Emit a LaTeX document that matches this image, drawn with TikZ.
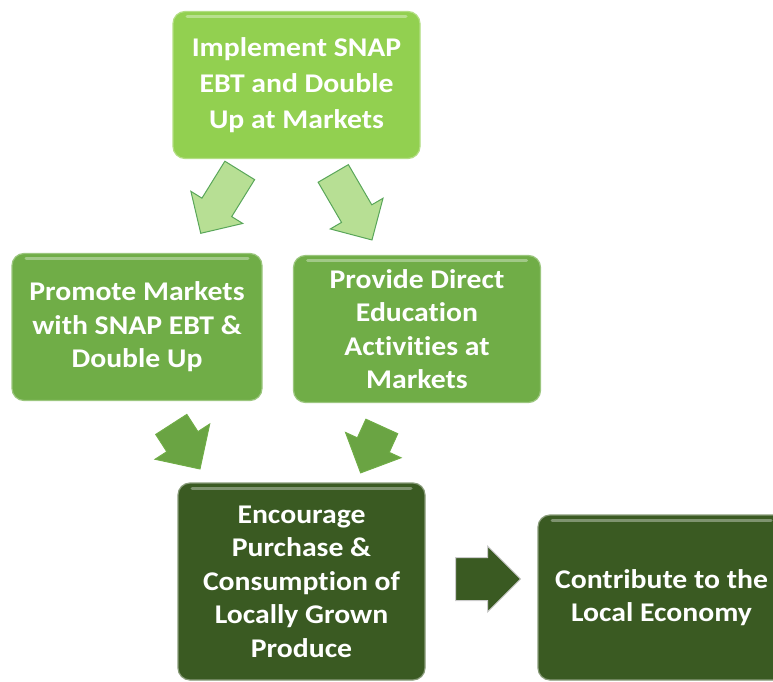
\documentclass[tikz,border=0pt]{standalone}
\usepackage{fontspec}
\newfontfamily\boxfamily{Carlito}[FakeStretch=1.1, Ligatures=NoCommon]
\usetikzlibrary{shapes.arrows}

\definecolor{lightgreen}{HTML}{92D050}
\definecolor{midgreen}{HTML}{70AD47}
\definecolor{darkgreen}{HTML}{3A5A22}
\definecolor{paleleaf}{HTML}{B7DF94}

\tikzset{
  stepbox/.style={rounded corners=12pt, minimum width=247pt, minimum height=147pt,
    align=center, text=white, line width=1.2pt,
    font=\boxfamily\bfseries\fontsize{27}{33.5}\selectfont,
    path picture={
      \draw[white, opacity=.35, line width=3pt, line cap=round]
        ([xshift=14pt,yshift=-5pt]path picture bounding box.north west) --
        ([xshift=-14pt,yshift=-5pt]path picture bounding box.north east);}},
  flowarrow/.style={single arrow, single arrow head extend=13pt, inner xsep=0pt,
    inner ysep=17pt, line width=1pt, anchor=tail},
}

\begin{document}
\begin{tikzpicture}[x=1pt, y=-1pt]
    \useasboundingbox (0,0) rectangle (773,682);

    % Riquadri
    \node[stepbox, fill=lightgreen, draw=lightgreen!70!white, font=\boxfamily\bfseries\fontsize{27}{36}\selectfont]
        (impl) at (296.5,85) {Implement SNAP\\EBT and Double\\Up at Markets};
    \node[stepbox, fill=midgreen, draw=midgreen!70!white, minimum width=250pt]
        (promote) at (137,327) {Promote Markets\\with SNAP EBT \&\\Double Up};
    \node[stepbox, fill=midgreen, draw=midgreen!70!white]
        (educate) at (417,329) {Provide Direct\\Education\\Act\kern0pt ivit\kern0pt ies at\\Markets};
    \node[stepbox, fill=darkgreen, draw=darkgreen!60!white, minimum height=197pt]
        (purchase) at (301.5,581.5) {Encourage\\Purchase \&\\Consumption of\\Locally Grown\\Produce};
    \node[stepbox, fill=darkgreen, draw=darkgreen!60!white, minimum height=165pt]
        (economy) at (661.5,597.5) {Contribute to the\\Local Economy};

    % Frecce
    \node[flowarrow, fill=paleleaf, draw=gray!70!green, minimum height=74pt, rotate=-121.8]
        (a1) at (240,170) {};
    \node[flowarrow, fill=paleleaf, draw=gray!70!green, minimum height=77pt, rotate=-59.8]
        (a2) at (333,173) {};
    \node[flowarrow, fill=midgreen!95!black, draw=midgreen, minimum height=53pt, rotate=-57.2,
        single arrow head extend=14pt, inner ysep=18pt]
        (a3) at (171,424) {};
    \node[flowarrow, fill=midgreen!95!black, draw=midgreen, minimum height=51pt, rotate=-114.5]
        (a4) at (382,426) {};
    \node[flowarrow, fill=darkgreen, draw=gray!40, minimum height=65pt,
        single arrow head extend=11.5pt, inner ysep=21pt]
        (a5) at (455,579) {};
\end{tikzpicture}
\end{document}
